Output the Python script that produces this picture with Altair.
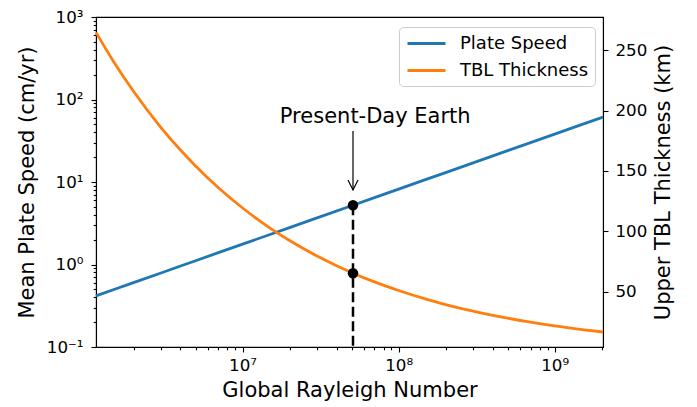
import altair as alt
import pandas as pd

# ---- data ----
ra = [1.15e6, 1.5e6, 2e6, 3e6, 4e6, 5e6, 7e6, 1e7, 1.5e7, 2e7, 3e7, 5.1e7,
      7e7, 1e8, 1.5e8, 2e8, 3e8, 5e8, 7e8, 1e9, 1.5e9, 2.04e9]
plate_speed = [0.417, 0.498, 0.603, 0.790, 0.958, 1.111, 1.391, 1.764, 2.313,
               2.802, 3.671, 5.231, 6.461, 8.198, 10.74, 13.01, 17.05, 23.98,
               30.01, 38.07, 49.91, 61.2]
tbl_thickness = [264.6, 239.9, 215.9, 185.9, 167.3, 154.1, 136.1, 119.4, 102.8,
                 92.5, 79.7, 65.5, 58.3, 51.2, 44.1, 39.6, 34.1, 28.3, 25.0,
                 21.9, 18.9, 16.9]
series_names = ["Plate Speed", "TBL Thickness"]
series_colors = ["#1f77b4", "#ff7f0e"]

earth_ra = [5.1e7]
earth_speed = [5.231]
earth_tbl = [65.5]
annot_text = ["Present-Day Earth"]
annot_text_ra = [7.08e7]
annot_text_speed = [52.0]
arrow_start_speed = [41.5]
arrow_tip_speed = [8.0]

x_domain = [1.15e6, 2.04e9]
y_left_domain = [0.1, 1000]
y_right_domain = [4.5, 277.3]

x_major = [1e7, 1e8, 1e9]
x_major_labels = ["10⁷", "10⁸", "10⁹"]
x_minor = [2e6, 3e6, 4e6, 5e6, 6e6, 7e6, 8e6, 9e6,
           2e7, 3e7, 4e7, 5e7, 6e7, 7e7, 8e7, 9e7,
           2e8, 3e8, 4e8, 5e8, 6e8, 7e8, 8e8, 9e8,
           2e9]

y_major = [0.1, 1, 10, 100, 1000]
y_major_labels = ["10⁻¹", "10⁰", "10¹", "10²", "10³"]
y_minor = [0.2, 0.3, 0.4, 0.5, 0.6, 0.7, 0.8, 0.9,
           2, 3, 4, 5, 6, 7, 8, 9,
           20, 30, 40, 50, 60, 70, 80, 90,
           200, 300, 400, 500, 600, 700, 800, 900]

y_right_ticks = [50, 100, 150, 200, 250]

FONT = "DejaVu Sans"


def label_expr(values, labels):
    expr = "''"
    for v, l in reversed(list(zip(values, labels))):
        expr = f"datum.value == {v!r} ? '{l}' : ({expr})"
    return expr


blue_df = pd.DataFrame({"ra": ra, "value": plate_speed, "series": series_names[0]})
orange_df = pd.DataFrame({"ra": ra, "value": tbl_thickness, "series": series_names[1]})
earth_df = pd.DataFrame({"ra": earth_ra, "speed": earth_speed, "tbl": earth_tbl,
                         "bottom": [y_left_domain[0]]})
annot_df = pd.DataFrame({"ra": annot_text_ra, "speed": annot_text_speed, "text": annot_text})
arrow_df = pd.DataFrame({"ra": earth_ra, "start": arrow_start_speed, "tip": arrow_tip_speed})

x_scale = alt.Scale(type="log", domain=x_domain, nice=False)
yl_scale = alt.Scale(type="log", domain=y_left_domain, nice=False)
yr_scale = alt.Scale(domain=y_right_domain, nice=False, zero=False)
color_scale = alt.Scale(domain=series_names, range=series_colors)

x_axis_major = alt.Axis(orient="bottom", values=x_major,
                        labelExpr=label_expr(x_major, x_major_labels),
                        title="Global Rayleigh Number", tickSize=5, labelPadding=5,
                        titlePadding=6, labelFlush=False, labelOverlap=False)
x_axis_minor = alt.Axis(orient="bottom", values=x_minor, tickSize=2.8, labels=False,
                        domain=False, title=None, grid=False)
yl_axis_major = alt.Axis(orient="left", values=y_major,
                         labelExpr=label_expr(y_major, y_major_labels),
                         title="Mean Plate Speed (cm/yr)", tickSize=5, labelPadding=8,
                         titlePadding=9, labelFlush=False, labelOverlap=False)
yl_axis_minor = alt.Axis(orient="left", values=y_minor, tickSize=2.8, labels=False,
                         domain=False, title=None, grid=False)
yr_axis = alt.Axis(orient="right", values=y_right_ticks, title="Upper TBL Thickness (km)",
                   titleAngle=270, titleBaseline="top", titlePadding=6, tickSize=5,
                   labelPadding=7, labelFlush=False, labelOverlap=False)

legend = alt.Legend(orient="none", legendX=303, legendY=10, title=None,
                    symbolType="M-0.889,0H3.333", symbolSize=324, symbolStrokeWidth=2.8,
                    labelFontSize=18, labelFont=FONT, labelColor="black", labelOffset=34,
                    rowPadding=7, padding=6, fillColor="rgba(255,255,255,0.8)",
                    strokeColor="#cccccc", cornerRadius=4)

blue_line = alt.Chart(blue_df).mark_line(strokeWidth=2.8).encode(
    x=alt.X("ra:Q", scale=x_scale, axis=x_axis_major),
    y=alt.Y("value:Q", scale=yl_scale, axis=yl_axis_major),
    color=alt.Color("series:N", scale=color_scale, legend=legend),
)

dashed = alt.Chart(earth_df).mark_rule(color="black", strokeWidth=2.5, strokeDash=[10, 4.5]).encode(
    x=alt.X("ra:Q", scale=x_scale, axis=x_axis_minor),
    y=alt.Y("speed:Q", scale=yl_scale, axis=yl_axis_minor),
    y2="bottom:Q",
)

arrow_shaft = alt.Chart(arrow_df).mark_rule(color="black", strokeWidth=1.2).encode(
    x=alt.X("ra:Q", scale=x_scale, axis=None),
    y=alt.Y("start:Q", scale=yl_scale, axis=None),
    y2="tip:Q",
)

arrow_head = alt.Chart(arrow_df).mark_point(
    shape="M-1,-2L0,0L1,-2", size=100, filled=False, stroke="black",
    strokeWidth=1.2, opacity=1,
).encode(
    x=alt.X("ra:Q", scale=x_scale, axis=None),
    y=alt.Y("tip:Q", scale=yl_scale, axis=None),
)

annot = alt.Chart(annot_df).mark_text(
    font=FONT, fontSize=21, align="center", baseline="alphabetic", color="black"
).encode(
    x=alt.X("ra:Q", scale=x_scale, axis=None),
    y=alt.Y("speed:Q", scale=yl_scale, axis=None),
    text="text:N",
)

blue_dot = alt.Chart(earth_df).mark_circle(size=110, color="black", opacity=1).encode(
    x=alt.X("ra:Q", scale=x_scale, axis=None),
    y=alt.Y("speed:Q", scale=yl_scale, axis=None),
)

orange_line = alt.Chart(orange_df).mark_line(strokeWidth=2.8, interpolate="monotone").encode(
    x=alt.X("ra:Q", scale=x_scale, axis=None),
    y=alt.Y("value:Q", scale=yr_scale, axis=yr_axis),
    color=alt.Color("series:N", scale=color_scale, legend=None),
)

orange_dot = alt.Chart(earth_df).mark_circle(size=110, color="black", opacity=1).encode(
    x=alt.X("ra:Q", scale=x_scale, axis=None),
    y=alt.Y("tbl:Q", scale=yr_scale, axis=None),
)

chart = alt.layer(
    blue_line, orange_line, dashed, arrow_shaft, arrow_head, annot, blue_dot, orange_dot
).resolve_scale(y="independent").resolve_axis(x="independent", y="independent").properties(
    width=507, height=330,
    autosize=alt.AutoSizeParams(type="none"),
    padding={"left": 96, "top": 17, "right": 94, "bottom": 60},
    background="white",
).configure_view(
    stroke="black", strokeWidth=1.1
).configure_axis(
    labelFont=FONT, labelFontSize=16.7, labelColor="black",
    titleFont=FONT, titleFontSize=21, titleFontWeight="normal", titleColor="black",
    domainColor="black", domainWidth=1.1, tickColor="black", tickWidth=1.1,
    grid=False,
)

chart.save("out.html", embed_options={"renderer": "svg", "actions": False})
